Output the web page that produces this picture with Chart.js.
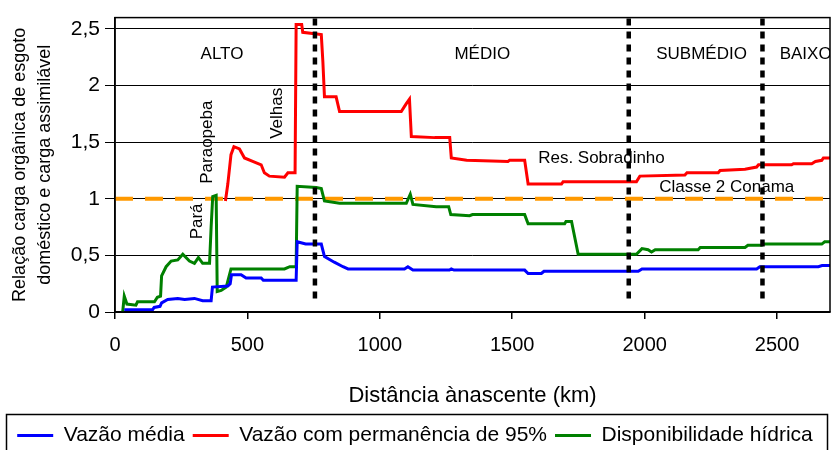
<!DOCTYPE html>
<html lang="pt">
<head>
<meta charset="UTF-8">
<title>Relação carga orgânica / carga assimilável</title>
<script src="https://cdn.jsdelivr.net/npm/chart.js@4.4.1/dist/chart.umd.min.js"></script>
<style>
  html, body { margin: 0; padding: 0; background: #fff; }
</style>
</head>
<body>
<canvas id="chart" width="831" height="450"></canvas>
<script>
// distância à nascente (km) e relação carga / carga assimilável
const xMedia = [35, 142, 148, 170, 176, 199, 237, 263, 300, 331, 363, 368, 426, 435, 440, 476, 495, 552, 560, 684, 688, 720, 779, 791, 828, 861, 880, 1093, 1106, 1125, 1263, 1270, 1280, 1547, 1560, 1610, 1620, 1976, 1990, 2423, 2435, 2656, 2670, 2700];
const yMedia = [0.02, 0.02, 0.04, 0.05, 0.08, 0.11, 0.12, 0.11, 0.12, 0.10, 0.10, 0.22, 0.23, 0.25, 0.33, 0.33, 0.30, 0.30, 0.28, 0.28, 0.62, 0.60, 0.60, 0.49, 0.44, 0.40, 0.38, 0.38, 0.40, 0.37, 0.37, 0.38, 0.37, 0.37, 0.34, 0.34, 0.36, 0.36, 0.38, 0.38, 0.40, 0.40, 0.41, 0.41];

const xQ95 = [417, 426, 438, 449, 470, 489, 520, 552, 564, 583, 640, 653, 680, 684, 705, 709, 779, 785, 791, 835, 848, 1081, 1100, 1112, 1119, 1207, 1264, 1270, 1328, 1484, 1490, 1547, 1560, 1686, 1692, 1969, 1982, 2152, 2160, 2278, 2285, 2379, 2423, 2430, 2555, 2562, 2631, 2645, 2669, 2675, 2700];
const yQ95 = [0.98, 1.13, 1.39, 1.46, 1.44, 1.36, 1.33, 1.30, 1.23, 1.20, 1.19, 1.23, 1.23, 2.54, 2.54, 2.47, 2.45, 2.21, 1.90, 1.90, 1.77, 1.77, 1.84, 1.88, 1.55, 1.54, 1.54, 1.36, 1.34, 1.33, 1.34, 1.34, 1.13, 1.13, 1.15, 1.15, 1.20, 1.21, 1.23, 1.23, 1.25, 1.26, 1.28, 1.30, 1.30, 1.31, 1.31, 1.33, 1.34, 1.36, 1.36];

const xDisp = [29, 35, 45, 79, 85, 149, 160, 172, 176, 193, 212, 237, 256, 281, 300, 315, 331, 357, 363, 369, 382, 386, 401, 420, 438, 640, 660, 684, 688, 760, 779, 791, 848, 1100, 1115, 1125, 1213, 1260, 1268, 1339, 1350, 1547, 1560, 1698, 1703, 1724, 1749, 1969, 1990, 2013, 2026, 2040, 2202, 2210, 2379, 2390, 2442, 2450, 2669, 2680, 2700];
const yDisp = [0.00, 0.14, 0.07, 0.06, 0.09, 0.09, 0.13, 0.14, 0.32, 0.40, 0.45, 0.46, 0.51, 0.45, 0.43, 0.48, 0.43, 0.43, 0.75, 1.02, 1.03, 0.18, 0.19, 0.22, 0.38, 0.38, 0.40, 0.40, 1.11, 1.10, 1.09, 0.98, 0.96, 0.96, 1.04, 0.95, 0.93, 0.93, 0.86, 0.85, 0.86, 0.86, 0.78, 0.78, 0.80, 0.80, 0.51, 0.51, 0.56, 0.55, 0.53, 0.55, 0.55, 0.57, 0.57, 0.59, 0.59, 0.60, 0.60, 0.62, 0.62];

// limite Classe 2 Conama e divisões do rio
const conamaX = [0, 2700];
const conamaY = [1, 1];
const divisoes = [755, 1940, 2445];
const divisaoY = [0.12, 2.6];

const xTicks = [0, 500, 1000, 1500, 2000, 2500];
const yTicks = [0, 0.5, 1, 1.5, 2, 2.5];

const rotulos = ['ALTO', 'MÉDIO', 'SUBMÉDIO', 'BAIXO', 'Res. Sobradinho', 'Classe 2 Conama'];
const rotuloX = [404, 1387, 2215, 2510, 1837, 2310];
const rotuloY = [2.28, 2.28, 2.28, 2.28, 1.36, 1.105];
const rotuloAlign = ['center', 'center', 'center', 'left', 'center', 'center'];

const rios = ['Pará', 'Paraopeba', 'Velhas'];
const rioX = [310, 348, 612];
const rioY = [0.80, 1.50, 1.755];

const pts = (xs, ys) => xs.map((x, i) => ({x: x, y: ys[i]}));

Chart.defaults.font.family = "'Liberation Sans', Arial, sans-serif";
Chart.defaults.color = '#000';

const datasets = [
  {label: 'Vazão média', data: pts(xMedia, yMedia), borderColor: '#0000ff', order: 1},
  {label: 'Vazão com permanência de 95%', data: pts(xQ95, yQ95), borderColor: '#ff0000', order: 1},
  {label: 'Disponibilidade hídrica', data: pts(xDisp, yDisp), borderColor: '#008000', order: 1},
  {label: 'Classe 2 Conama', data: pts(conamaX, conamaY), borderColor: '#ff9900', borderWidth: 4, borderDash: [18, 12], order: 2}
];
divisoes.forEach(d => {
  datasets.push({
    label: 'divisão', data: pts([d, d], divisaoY),
    borderColor: '#000', borderWidth: 4.5, borderDash: [7, 6], order: 0
  });
});
datasets.forEach(ds => {
  ds.borderWidth = ds.borderWidth || 3;
  ds.pointRadius = 0;
  ds.tension = 0;
  ds.fill = false;
});

// textos dentro do gráfico
const textos = {
  id: 'textos',
  beforeDatasetsDraw(chart) {
    const {ctx, chartArea, scales: {x, y}} = chart;
    ctx.save();
    ctx.beginPath();
    ctx.rect(chartArea.left, chartArea.top, chartArea.right - chartArea.left, chartArea.bottom - chartArea.top);
    ctx.clip();
    ctx.fillStyle = '#000';
    ctx.font = "17px 'Liberation Sans', Arial, sans-serif";
    ctx.textBaseline = 'middle';
    rotulos.forEach((t, i) => {
      ctx.textAlign = rotuloAlign[i];
      ctx.fillText(t, x.getPixelForValue(rotuloX[i]), y.getPixelForValue(rotuloY[i]));
    });
    ctx.textAlign = 'center';
    rios.forEach((t, i) => {
      ctx.save();
      ctx.translate(x.getPixelForValue(rioX[i]), y.getPixelForValue(rioY[i]));
      ctx.rotate(-Math.PI / 2);
      ctx.fillText(t, 0, 0);
      ctx.restore();
    });
    ctx.restore();
  },
  afterDraw(chart) {
    const {ctx, chartArea, legend} = chart;
    ctx.save();
    ctx.strokeStyle = '#000';
    ctx.lineWidth = 1.5;
    ctx.strokeRect(chartArea.left, chartArea.top, chartArea.right - chartArea.left, chartArea.bottom - chartArea.top);
    const hb = legend.legendHitBoxes[0];
    const cy = hb.top + hb.height / 2;
    ctx.strokeRect(6.5, cy - 21, chart.width - 10, 60);
    ctx.restore();
  }
};

new Chart(document.getElementById('chart'), {
  type: 'line',
  data: {datasets: datasets},
  plugins: [textos],
  options: {
    responsive: false,
    animation: false,
    layout: {padding: {top: 15, right: 1, bottom: -6, left: 0}},
    scales: {
      x: {
        type: 'linear', min: 0, max: 2700,
        afterBuildTicks: s => { s.ticks = xTicks.map(v => ({value: v})); },
        afterFit: s => { s.height = 105; },
        ticks: {
          padding: 14,
          font: {size: 20},
          callback: v => String(v)
        },
        grid: {drawOnChartArea: false, drawTicks: true, tickLength: 7, color: '#000', lineWidth: 1.5},
        border: {color: '#000', width: 1.5},
        title: {
          display: true, text: 'Distância ànascente (km)',
          font: {size: 22}, padding: {top: 0, bottom: 8}
        }
      },
      y: {
        type: 'linear', min: 0, max: 2.6,
        afterBuildTicks: s => { s.ticks = yTicks.map(v => ({value: v})); },
        afterFit: s => { s.width = 115; },
        ticks: {
          padding: 5,
          font: {size: 21},
          callback: v => String(v).replace('.', ',')
        },
        grid: {color: '#000', lineWidth: 1, tickLength: 10},
        border: {color: '#000', width: 1.5},
        title: {
          display: true,
          text: ['Relação carga orgânica de esgoto', 'doméstico e carga assimilável'],
          font: {size: 18, lineHeight: 1.39}, padding: {top: 7.5, bottom: 0}
        }
      }
    },
    plugins: {
      tooltip: {enabled: false},
      legend: {
        position: 'bottom',
        labels: {
          filter: item => item.datasetIndex < 3,
          usePointStyle: true, pointStyle: 'line', pointStyleWidth: 36,
          font: {size: 21}, color: '#000', padding: 8
        }
      }
    }
  }
});
</script>
</body>
</html>
